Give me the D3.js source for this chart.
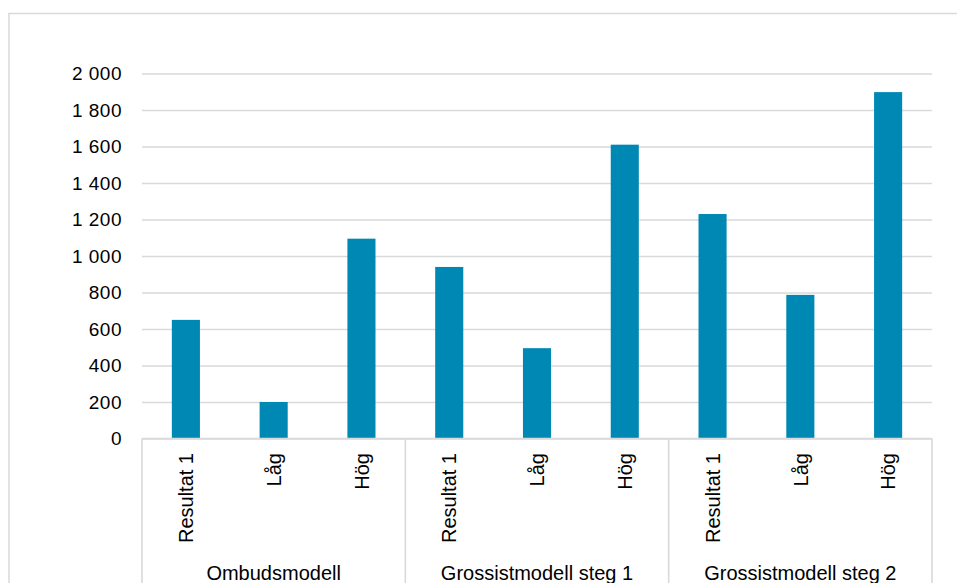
<!DOCTYPE html>
<html><head><meta charset="utf-8">
<script src="https://cdn.jsdelivr.net/npm/d3@7"></script>
<style>
html,body{margin:0;padding:0;background:#fff;}
svg{display:block;}
</style></head>
<body>
<svg id="chart" width="957" height="583"></svg>
<script>
const groups = ["Ombudsmodell", "Grossistmodell steg 1", "Grossistmodell steg 2"];
const subCategories = ["Resultat 1", "Låg", "Hög"];
const values = [650, 200, 1095, 940, 495, 1610, 1230, 787, 1898];
const yTicks = [0, 200, 400, 600, 800, 1000, 1200, 1400, 1600, 1800, 2000];

const rows = [];
groups.forEach((g, gi) => subCategories.forEach((s, si) => {
  rows.push({key: g + "|" + s, group: g, sub: s, value: values[gi * subCategories.length + si]});
}));

const svg = d3.select("#chart");
const plotL = 142, plotR = 932, plotT = 73.5, plotB = 438.5;

// outer chart border
svg.append("rect").attr("x", 9).attr("y", 13.5).attr("width", 980).attr("height", 620)
  .attr("fill", "none").attr("stroke", "#d9d9d9").attr("stroke-width", 1.5);

const x = d3.scaleBand().domain(rows.map(d => d.key)).range([plotL, plotR])
  .paddingInner(0.68).paddingOuter(0.34);
const y = d3.scaleLinear().domain([0, 2000]).range([plotB, plotT]);

// gridlines
const yAxis = d3.axisLeft(y).tickValues(yTicks)
  .tickFormat(d => d3.format(",")(d).replace(/,/g, " "))
  .tickSize(-(plotR - plotL)).tickPadding(20);
const gy = svg.append("g").attr("transform", `translate(${plotL},0)`).call(yAxis);
gy.select(".domain").remove();
gy.selectAll(".tick line").attr("stroke", "#d9d9d9").attr("stroke-width", 1.6);
gy.selectAll(".tick text").attr("font-family", "Liberation Sans, Arial, sans-serif")
  .attr("font-size", 19).attr("letter-spacing", 0.5).attr("fill", "#000");

// bars
svg.append("g").selectAll("rect").data(rows).join("rect")
  .attr("x", d => x(d.key)).attr("width", x.bandwidth())
  .attr("y", d => y(d.value)).attr("height", d => y(0) - y(d.value))
  .attr("fill", "#0088b5");

// axis baseline
svg.append("line").attr("x1", plotL).attr("x2", plotR).attr("y1", plotB).attr("y2", plotB)
  .attr("stroke", "#d9d9d9").attr("stroke-width", 1.6);

// group separators
const step = x.step();
const boundaries = [plotL];
groups.forEach(g => boundaries.push(x(g + "|" + subCategories[subCategories.length - 1]) + x.bandwidth() / 2 + step / 2));
svg.append("g").selectAll("line").data(boundaries).join("line")
  .attr("x1", d => d).attr("x2", d => d).attr("y1", plotB).attr("y2", 600)
  .attr("stroke", "#d9d9d9").attr("stroke-width", 1.6);

// sub-category labels (rotated)
svg.append("g").selectAll("text").data(rows).join("text")
  .attr("transform", d => `translate(${x(d.key) + x.bandwidth() / 2},453) rotate(-90)`)
  .attr("text-anchor", "end").attr("dy", "0.36em")
  .attr("font-family", "Liberation Sans, Arial, sans-serif").attr("font-size", 20)
  .attr("fill", "#000").text(d => d.sub);

// group labels
svg.append("g").selectAll("text").data(groups).join("text")
  .attr("x", (g, i) => (boundaries[i] + boundaries[i + 1]) / 2).attr("y", 579.5)
  .attr("text-anchor", "middle")
  .attr("font-family", "Liberation Sans, Arial, sans-serif").attr("font-size", 20)
  .attr("fill", "#000").text(g => g);
</script>
</body></html>
